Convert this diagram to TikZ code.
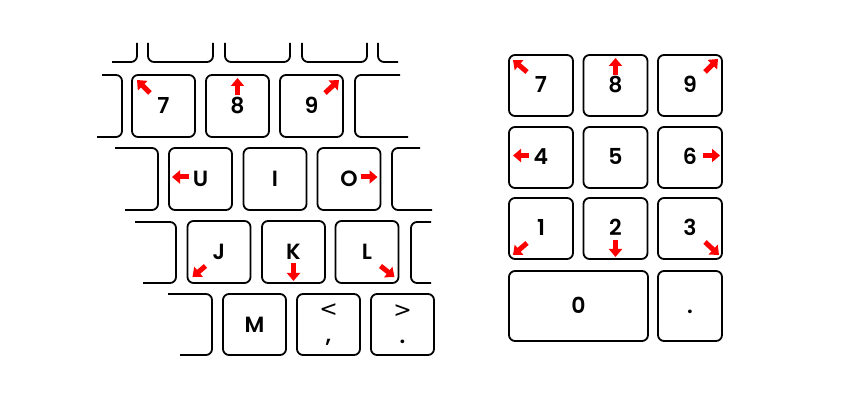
\documentclass[tikz,border=0pt]{standalone}
\usepackage{fontspec}
\setmainfont{Poppins}[UprightFont=* SemiBold]
\newfontfamily\signfont{DejaVu Sans}
\usetikzlibrary{arrows.meta,positioning}

\tikzset{
  key/.style={shape=rectangle,draw,rounded corners=6pt,line width=1.8pt,
    minimum width=63pt,minimum height=62pt,inner sep=0pt,outer sep=0pt,
    font=\fontsize{22}{26}\selectfont,text height=15pt,text depth=0pt},
  twokey/.style={key,minimum height=61pt,align=center,text height=,text depth=},
  keyedge/.style={line width=1.8pt,rounded corners=6pt},
  hint/.style={draw=red,line width=5pt,-{Triangle[width=13pt,length=8pt]}},
}

\begin{document}
\begin{tikzpicture}[x=1pt,y=-1pt]
\useasboundingbox (0,0) rectangle (845,411);

% keys cut off at the edges
\draw[keyedge] (112,62) -- (137,62) -- (137,43);
\draw[keyedge] (148,43) -- (148,62) -- (213,62) -- (213,43);
\draw[keyedge] (225,43) -- (225,62) -- (290,62) -- (290,43);
\draw[keyedge] (302,43) -- (302,62) -- (367,62) -- (367,43);
\draw[keyedge] (378,43) -- (378,62) -- (398,62);
\draw[keyedge] (102,75) -- (122,75) -- (122,137) -- (97,137);
\draw[keyedge] (400,75) -- (355,75) -- (355,137) -- (408,137);
\draw[keyedge] (115,148) -- (158,148) -- (158,210) -- (125,210);
\draw[keyedge] (420,148) -- (392,148) -- (392,210) -- (432,210);
\draw[keyedge] (135,222) -- (176,222) -- (176,283) -- (143,283);
\draw[keyedge] (431,222) -- (411,222) -- (411,283) -- (431,283);
\draw[keyedge] (168,294) -- (212,294) -- (212,355) -- (180,355);

% keyboard
\node[key] (k7) at (163.5,106) {7};
\node[key] (k8) at (237.5,106) {8};
\node[key] (k9) at (311.5,106) {9};
\node[key] (kU) at (200.5,179) {U};
\node[key] (kI) at (275,179) {I};
\node[key] (kO) at (349,179) {O};
\node[key] (kJ) at (219,252) {J};
\node[key] (kK) at (293.5,252) {K};
\node[key] (kL) at (367,252) {L};
\node[key,minimum height=61pt] (kM) at (254.5,324.5) {M};
\node[twokey] (kcomma) at (328.5,324.5) {{\signfont <}\\[0pt],};
\node[twokey] (kperiod) at (402.5,324.5) {{\signfont >}\\[0pt].};

\draw[hint] ([shift={(18,18)}]k7.north west) -- ([shift={(5,5)}]k7.north west);
\draw[hint] ([shift={(0,20)}]k8.north) -- ([shift={(0,3)}]k8.north);
\draw[hint] ([shift={(-18,18)}]k9.north east) -- ([shift={(-4,5)}]k9.north east);
\draw[hint] ([shift={(20,-2)}]kU.west) -- ([shift={(3,-2)}]kU.west);
\draw[hint] ([shift={(-20,-2)}]kO.east) -- ([shift={(-3,-2)}]kO.east);
\draw[hint] ([shift={(18,-17)}]kJ.south west) -- ([shift={(5,-6)}]kJ.south west);
\draw[hint] ([shift={(0,-20)}]kK.south) -- ([shift={(0,-2)}]kK.south);
\draw[hint] ([shift={(-18,-17)}]kL.south east) -- ([shift={(-4,-6)}]kL.south east);

% numeric keypad
\node[key,minimum width=64pt,minimum height=61pt] (n7) at (541,85.5) {7};
\node[key,minimum width=64pt,minimum height=61pt] (n8) at (615.5,85.5) {8};
\node[key,minimum width=64pt,minimum height=61pt] (n9) at (690,85.5) {9};
\node[key,minimum width=64pt,minimum height=61pt] (n4) at (541,157.5) {4};
\node[key,minimum width=64pt,minimum height=61pt] (n5) at (615.5,157.5) {5};
\node[key,minimum width=64pt,minimum height=61pt] (n6) at (690,157.5) {6};
\node[key,minimum width=64pt,minimum height=61pt] (n1) at (541,228.5) {1};
\node[key,minimum width=64pt,minimum height=61pt] (n2) at (615.5,228.5) {2};
\node[key,minimum width=64pt,minimum height=61pt] (n3) at (690,228.5) {3};
\node[key,minimum width=139pt,minimum height=70pt] (n0) at (578.5,306) {0};
\node[key,minimum width=64pt,minimum height=70pt] (ndot) at (690,306) {.};

\draw[hint] ([shift={(18,17)}]n7.north west) -- ([shift={(4,5)}]n7.north west);
\draw[hint] ([shift={(0,20)}]n8.north) -- ([shift={(0,3)}]n8.north);
\draw[hint] ([shift={(-17,17)}]n9.north east) -- ([shift={(-4,4)}]n9.north east);
\draw[hint] ([shift={(20,-2)}]n4.west) -- ([shift={(4,-2)}]n4.west);
\draw[hint] ([shift={(-19,-2)}]n6.east) -- ([shift={(-2,-2)}]n6.east);
\draw[hint] ([shift={(18,-16)}]n1.south west) -- ([shift={(4,-4)}]n1.south west);
\draw[hint] ([shift={(0,-19)}]n2.south) -- ([shift={(0,-2)}]n2.south);
\draw[hint] ([shift={(-17,-17)}]n3.south east) -- ([shift={(-3,-4)}]n3.south east);
\end{tikzpicture}
\end{document}
